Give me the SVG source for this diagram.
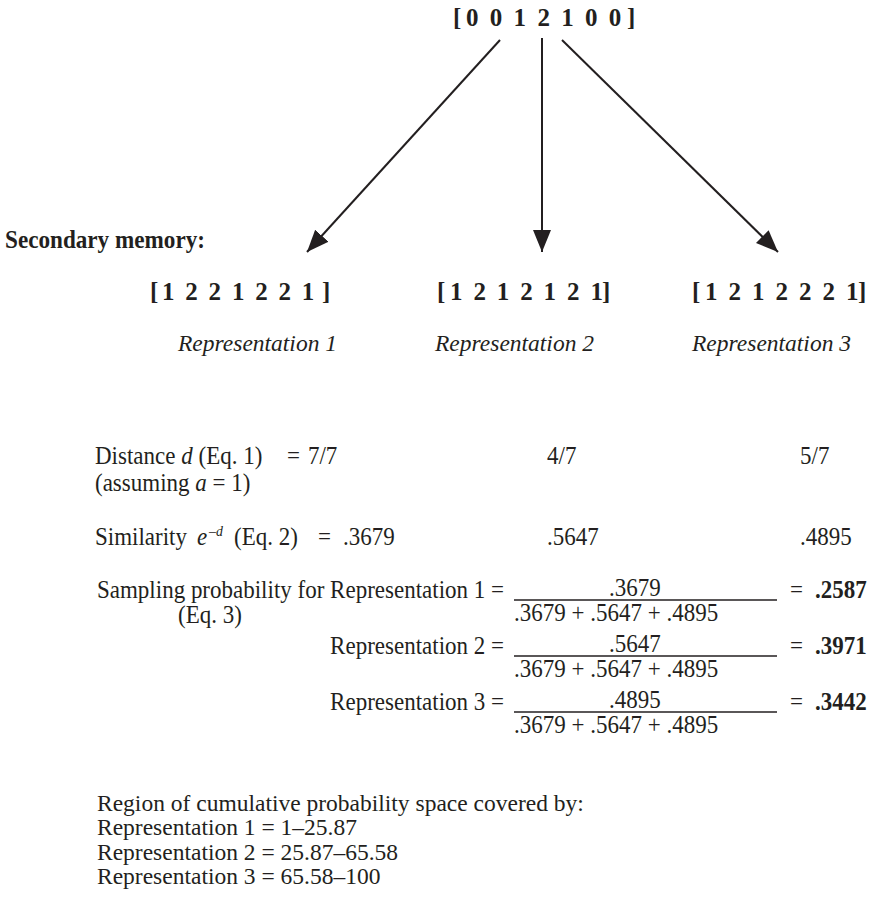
<svg xmlns="http://www.w3.org/2000/svg" width="870" height="903" viewBox="0 0 870 903">
<style>
text{font-family:"Liberation Serif","Times New Roman",serif;fill:#231f20;font-size:25px}
.b{font-weight:bold}
.i{font-style:italic}
.lab{font-size:23.5px;font-style:italic}
.bot{font-size:23.5px}
.sup{font-size:15px;font-style:italic}
.conn line{stroke:#231f20;stroke-width:2}
.frac{stroke:#231f20;stroke-width:1.3}
</style>
<defs>
<marker id="ah" markerUnits="userSpaceOnUse" markerWidth="24" markerHeight="20" refX="22" refY="9" orient="auto">
<path d="M0,0 L22,9 L0,18 Z" fill="#231f20"/>
</marker>
</defs>
<rect width="870" height="903" fill="#ffffff"/>

<g id="probe">
<text class="b" x="453 466 489.8 513.6 537.4 561.2 585 608.8 627" y="26">[0012100]</text>
</g>

<g class="conn" id="connectors">
<line x1="500" y1="40" x2="307" y2="252" marker-end="url(#ah)"/>
<line x1="542" y1="38" x2="542" y2="252" marker-end="url(#ah)"/>
<line x1="562" y1="40" x2="778" y2="252" marker-end="url(#ah)"/>
</g>

<g id="secondary-label">
<text class="b" x="5" y="248" style="font-size:26px" textLength="200" lengthAdjust="spacingAndGlyphs">Secondary memory:</text>
</g>

<g id="rep1">
<text class="b" x="150 162 185.3 208.6 231.9 255.2 278.5 301.8 322" y="300">[1221221]</text>
<text class="lab" x="178" y="351">Representation 1</text>
</g>
<g id="rep2">
<text class="b" x="437 450 473.4 496.8 520.2 543.6 567 590.4 602" y="300">[1212121]</text>
<text class="lab" x="435" y="351">Representation 2</text>
</g>
<g id="rep3">
<text class="b" x="692 705 728.5 752 775.5 799 822.5 846 858" y="300">[1212221]</text>
<text class="lab" x="692" y="351">Representation 3</text>
</g>

<g id="distance" transform="scale(0.92,1)">
<text x="103.26" y="464">Distance</text>
<text class="i" x="196.96" y="464">d</text>
<text x="215.76" y="464">(Eq. 1)</text>
<text x="311.96" y="464">=</text>
<text x="334.78" y="464">7/7</text>
<text x="594.57" y="464">4/7</text>
<text x="869.57" y="464">5/7</text>
<text x="103.26" y="491">(assuming</text>
<text class="i" x="212.28" y="491">a</text>
<text x="231.03" y="491">= 1)</text>
</g>

<g id="similarity" transform="scale(0.92,1)">
<text x="103.26" y="545">Similarity</text>
<text class="i" x="214.13" y="545">e</text>
<text class="sup" x="227.17" y="536">–d</text>
<text x="254.35" y="545">(Eq. 2)</text>
<text x="345.65" y="545">=</text>
<text x="372.83" y="545">.3679</text>
<text x="594.57" y="545">.5647</text>
<text x="869.57" y="545">.4895</text>
</g>

<g id="sampling">
<g transform="scale(0.92,1)">
<text x="547.83" y="598" text-anchor="end">Sampling probability for Representation 1 =</text>
<text x="193.48" y="623">(Eq. 3)</text>
<text x="690.22" y="596" text-anchor="middle">.3679</text>
<text x="558.70" y="621">.3679 + .5647 + .4895</text>
<text x="858.70" y="598">=</text>
<text class="b" x="885.87" y="598">.2587</text>

<text x="547.83" y="654" text-anchor="end">Representation 2 =</text>
<text x="690.22" y="652" text-anchor="middle">.5647</text>
<text x="558.70" y="677">.3679 + .5647 + .4895</text>
<text x="858.70" y="654">=</text>
<text class="b" x="885.87" y="654">.3971</text>

<text x="547.83" y="710" text-anchor="end">Representation 3 =</text>
<text x="690.22" y="708" text-anchor="middle">.4895</text>
<text x="558.70" y="733">.3679 + .5647 + .4895</text>
<text x="858.70" y="710">=</text>
<text class="b" x="885.87" y="710">.3442</text>
</g>
<line class="frac" x1="514" y1="600" x2="777" y2="600"/>
<line class="frac" x1="514" y1="656" x2="777" y2="656"/>
<line class="frac" x1="514" y1="712" x2="777" y2="712"/>
</g>

<g id="regions">
<text class="bot" x="97" y="811">Region of cumulative probability space covered by:</text>
<text class="bot" x="97" y="835">Representation 1 = 1–25.87</text>
<text class="bot" x="97" y="860">Representation 2 = 25.87–65.58</text>
<text class="bot" x="97" y="884">Representation 3 = 65.58–100</text>
</g>
</svg>
